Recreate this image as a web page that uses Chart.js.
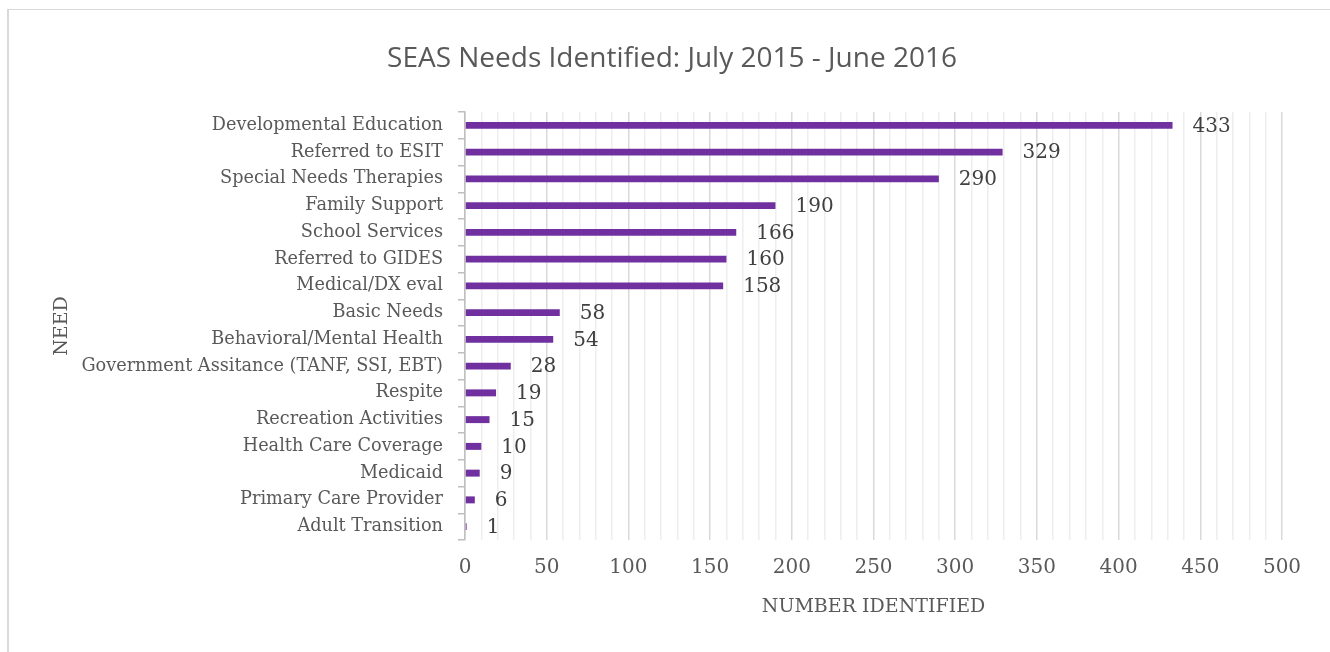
<!DOCTYPE html>
<html>
<head>
<meta charset="utf-8">
<script src="https://cdn.jsdelivr.net/npm/chart.js@4.4.1/dist/chart.umd.min.js"></script>
<style>
  html, body { margin: 0; padding: 0; background: #fff; }
  #wrap { position: relative; width: 1330px; height: 652px; overflow: hidden; }
  #frame { position: absolute; left: 7px; top: 9px; width: 1400px; height: 700px;
           border-left: 2px solid #d9d9d9; border-top: 1px solid #d9d9d9; box-sizing: border-box; }
  canvas { position: absolute; left: 0; top: 0; }
</style>
</head>
<body>
<div id="wrap">
  <div id="frame"></div>
  <canvas id="c" width="1330" height="652"></canvas>
</div>
<script>
const categories = [
  "Developmental Education",
  "Referred to ESIT",
  "Special Needs Therapies",
  "Family Support",
  "School Services",
  "Referred to GIDES",
  "Medical/DX eval",
  "Basic Needs",
  "Behavioral/Mental Health",
  "Government Assitance (TANF, SSI, EBT)",
  "Respite",
  "Recreation Activities",
  "Health Care Coverage",
  "Medicaid",
  "Primary Care Provider",
  "Adult Transition"
];
const needsIdentified = [433, 329, 290, 190, 166, 160, 158, 58, 54, 28, 19, 15, 10, 9, 6, 1];
const xTickLabels = [0, 50, 100, 150, 200, 250, 300, 350, 400, 450, 500];
const chartTitle = "SEAS Needs Identified: July 2015 - June 2016";
const xAxisTitle = "NUMBER IDENTIFIED";
const yAxisTitle = "NEED";

const SERIF = "'DejaVu Serif', 'Liberation Serif', serif";

const valueLabels = {
  id: 'valueLabels',
  afterDatasetsDraw(chart) {
    const ctx = chart.ctx;
    const meta = chart.getDatasetMeta(0);
    ctx.save();
    ctx.font = "20px " + SERIF;
    ctx.fillStyle = '#404040';
    ctx.textAlign = 'left';
    ctx.textBaseline = 'middle';
    meta.data.forEach((bar, i) => {
      ctx.fillText(String(chart.data.datasets[0].data[i]), bar.x + 20, bar.y + 1);
    });
    ctx.restore();
  }
};

new Chart(document.getElementById('c'), {
  type: 'bar',
  data: {
    labels: categories,
    datasets: [{
      label: 'Needs',
      data: needsIdentified,
      backgroundColor: '#7030a0',
      borderWidth: 0,
      barPercentage: 0.5,
      categoryPercentage: 0.52
    }]
  },
  options: {
    indexAxis: 'y',
    responsive: false,
    animation: false,
    layout: { padding: { left: 14, right: 0, top: 0, bottom: 0 } },
    plugins: {
      legend: { display: false },
      tooltip: { enabled: false },
      title: {
        display: true,
        text: chartTitle,
        color: '#595959',
        font: { family: "'Open Sans', sans-serif", size: 28, weight: 'normal' },
        padding: { top: 42, bottom: 36.4 }
      }
    },
    scales: {
      x: {
        min: 0, max: 500,
        afterFit(s) { s.height = 112; s.paddingRight = 48; },
        afterBuildTicks(s) {
          const t = [];
          for (let v = 0; v <= 500; v += 10) t.push({ value: v });
          s.ticks = t;
        },
        border: { display: false },
        grid: {
          drawTicks: false,
          lineWidth: 1.5,
          color: (c) => (c.tick && c.tick.value % 50 === 0) ? '#d9d9d9' : '#eeeeee'
        },
        ticks: {
          autoSkip: false,
          maxRotation: 0,
          padding: 16,
          color: '#595959',
          font: { family: SERIF, size: 20 },
          callback: (v) => xTickLabels.includes(v) ? String(v) : ''
        },
        title: {
          display: true,
          text: xAxisTitle,
          color: '#595959',
          font: { family: SERIF, size: 19 },
          padding: { top: 0, bottom: 34 }
        }
      },
      y: {
        afterFit(s) { s.width = 451; },
        border: { display: true, color: '#bfbfbf', width: 1.5 },
        grid: {
          drawOnChartArea: false,
          drawTicks: true,
          tickLength: 7,
          color: '#bfbfbf',
          lineWidth: 1.5
        },
        ticks: {
          autoSkip: false,
          padding: 15,
          color: '#595959',
          font: { family: SERIF, size: 17.7 }
        },
        title: {
          display: true,
          text: yAxisTitle,
          color: '#595959',
          font: { family: SERIF, size: 19 },
          padding: { top: 37, bottom: 0 }
        }
      }
    }
  },
  plugins: [valueLabels]
});
</script>
</body>
</html>
